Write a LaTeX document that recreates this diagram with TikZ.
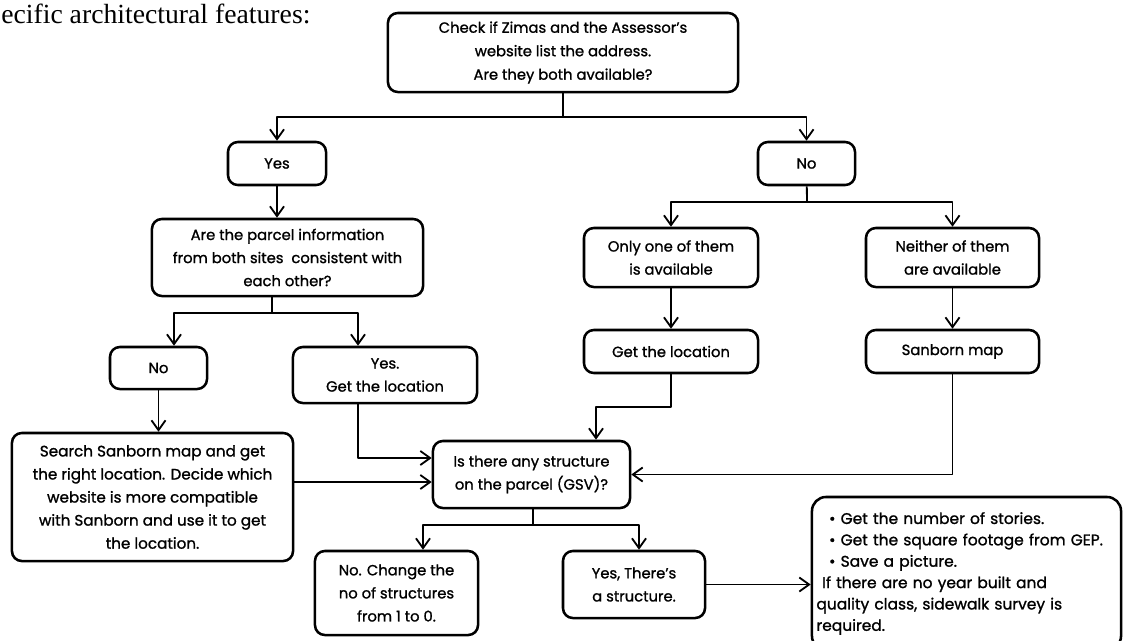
\documentclass[tikz,border=0pt]{standalone}
\usepackage{fontspec}
\setmainfont{Poppins}[FakeBold=1.2]
\newfontfamily\serifintro{Liberation Serif}
\usetikzlibrary{arrows.meta, calc}

\begin{document}
\begin{tikzpicture}[x=0.025cm, y=-0.025cm, >={Straight Barb[length=7pt,width=10pt]}, line join=round,
    flowbox/.style={draw, line width=1.8pt, rounded corners=7pt, align=center, inner sep=0pt, font=\fontsize{10.5}{16.4}\selectfont},
    link/.style={line width=1.3pt}]
  \useasboundingbox (0,0) rectangle (1123,640);
  \node[anchor=base west, inner sep=0pt, font=\serifintro\fontsize{19.7}{20}\selectfont] (intro) at (1,23) {ecific architectural features:};

  \node[flowbox, minimum width=8.75cm, minimum height=1.975cm, font=\fontsize{10.5}{16.7}\selectfont] (top) at (563,52.5) {Check if Zimas and the Assessor's\\ website list the address.\\ Are they both available?};
  \node[flowbox, minimum width=2.45cm, minimum height=1.075cm] (yes) at (277,163.5) {Yes};
  \node[flowbox, minimum width=2.425cm, minimum height=1.075cm] (no) at (806.5,163.5) {No};
  \node[flowbox, minimum width=6.775cm, minimum height=1.925cm] (parcel) at (287.5,257.5) {Are the parcel information\\ from both sites\ \ consistent with\\ each other?};
  \node[flowbox, minimum width=4.35cm, minimum height=1.475cm] (only) at (671,257.5) {Only one of them\\ is available};
  \node[flowbox, minimum width=4.325cm, minimum height=1.475cm] (neither) at (952.5,257.5) {Neither of them\\ are available};
  \node[flowbox, minimum width=4.35cm, minimum height=1.075cm] (getloc) at (671,351.5) {Get the location};
  \node[flowbox, minimum width=4.325cm, minimum height=1.075cm] (sanborn) at (952.5,351.5) {Sanborn map};
  \node[flowbox, minimum width=2.425cm, minimum height=1.05cm] (noleft) at (158.5,368) {No};
  \node[flowbox, minimum width=4.6cm, minimum height=1.4cm] (yesloc) at (385,375) {Yes.\\ Get the location};
  \node[flowbox, minimum width=7.025cm, minimum height=3.2cm, font=\fontsize{10.8}{16.4}\selectfont] (search) at (152.5,497) {Search Sanborn map and get\\ the right location. Decide which\\ website is more compatible\\ with Sanborn and use it to get\\ the location.};
  \node[flowbox, minimum width=4.925cm, minimum height=1.675cm] (gsv) at (531.5,474.5) {Is there any structure\\ on the parcel (GSV)?};
  \node[flowbox, minimum width=4.075cm, minimum height=2.1cm] (nochange) at (396.5,593) {No. Change the\\ no of structures\\ from 1 to 0.};
  \node[flowbox, minimum width=3.55cm, minimum height=1.675cm] (yesstruct) at (634,584.5) {Yes, There's\\ a structure.};
  \node[flowbox, rounded corners=10pt, align=left, text width=7.5cm, minimum width=7.725cm, minimum height=3.825cm, font=\fontsize{11}{15.2}\selectfont] (final) at (966.5,573.5) {\hspace*{9pt}• Get the number of stories.\\ \hspace*{9pt}• Get the square footage from GEP.\\ \hspace*{9pt}• Save a picture.\\ \hspace*{4pt}If there are no year built and\\ quality class, sidewalk survey is\\ required.};

  % top split
  \coordinate (topsplit) at (563,117);
  \draw[link] (top) -- (topsplit);
  \draw[link,->] (topsplit) -| (yes);
  \draw[link,->] (topsplit) -| (no);

  % yes side
  \draw[link,->] (yes) -- (yes |- parcel.north);
  \coordinate (parsplit) at (272,313);
  \coordinate (parl) at (174,313);
  \coordinate (parr) at (358,313);
  \draw[link] (parsplit |- parcel.south) -- (parsplit);
  \draw[link,->] (parsplit) -- (parl) -- (parl |- noleft.north);
  \draw[link,->] (parsplit) -- (parr) -- (parr |- yesloc.north);
  \draw[link,->] (noleft) -- (noleft |- search.north);
  \draw[link,->] (parr |- yesloc.south) |- (gsv.west |- 0,458);
  \draw[link,->] (search.east |- 0,482) -- (gsv.west |- 0,482);

  % no side
  \coordinate (nosplit) at (807,202);
  \draw[link] (no) -- (nosplit);
  \draw[link,->] (nosplit) -| (only);
  \draw[link,->] (nosplit) -| (neither);
  \draw[link,->] (only) -- (getloc);
  \draw[link,->] (neither) -- (sanborn);
  \coordinate (locturn) at (596,407);
  \draw[link,->] (getloc) |- (locturn) -- (locturn |- gsv.north);
  \draw[link,->] (sanborn) |- (gsv);

  % structure split
  \coordinate (gsvsplit) at (533,525);
  \coordinate (gsvl) at (423,525);
  \coordinate (gsvr) at (639,525);
  \draw[link] (gsvsplit |- gsv.south) -- (gsvsplit);
  \draw[link,->] (gsvsplit) -- (gsvl) -- (gsvl |- nochange.north);
  \draw[link,->] (gsvsplit) -- (gsvr) -- (gsvr |- yesstruct.north);
  \draw[link,->] (yesstruct) -- (yesstruct -| final.west);
\end{tikzpicture}
\end{document}
